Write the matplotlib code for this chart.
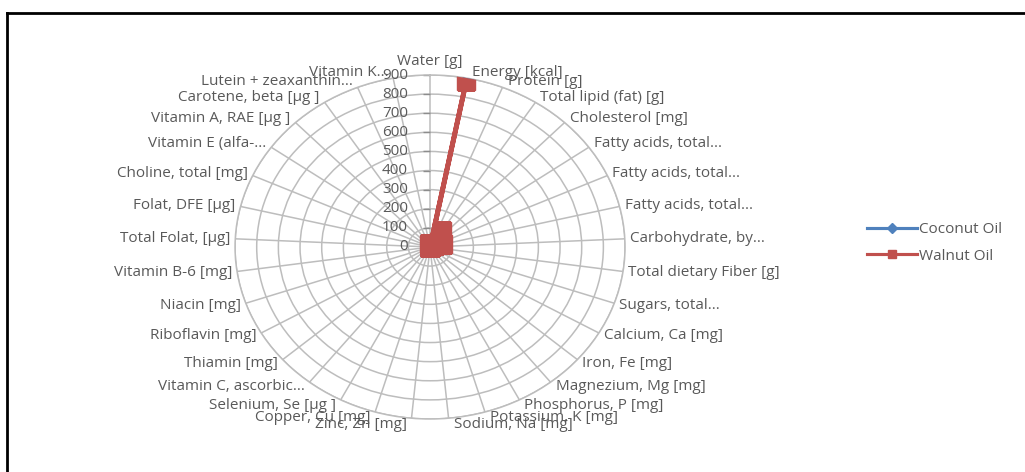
import numpy as np
import matplotlib
matplotlib.use("Agg")
import matplotlib.pyplot as plt
from matplotlib.lines import Line2D

# Nutrient categories (clockwise from the top)
categories = [
    "Water [g]", "Energy [kcal]", "Protein [g]", "Total lipid (fat) [g]",
    "Cholesterol [mg]", "Fatty acids, total...", "Fatty acids, total...",
    "Fatty acids, total...", "Carbohydrate, by...", "Total dietary Fiber [g]",
    "Sugars, total...", "Calcium, Ca [mg]", "Iron, Fe [mg]",
    "Magnezium, Mg [mg]", "Phosphorus, P [mg]", "Potassium, K [mg]",
    "Sodium, Na [mg]", "Zinc, Zn [mg]", "Copper, Cu [mg]", "Selenium, Se [µg ]",
    "Vitamin C, ascorbic...", "Thiamin [mg]", "Riboflavin [mg]", "Niacin [mg]",
    "Vitamin B-6 [mg]", "Total Folat, [µg]", "Folat, DFE [µg]",
    "Choline, total [mg]", "Vitamin E (alfa-...", "Vitamin A, RAE [µg ]",
    "Carotene, beta [µg ]", "Lutein + zeaxanthin...", "Vitamin K...",
]

coconut_oil = [0.03, 892, 0, 99.06, 0, 82.5, 6.3, 1.7, 0, 0, 0, 1, 0.05,
               0, 0, 0, 0, 0.02, 0, 0, 0, 0, 0, 0, 0, 0, 0, 0.3, 0.11, 0,
               0, 0, 0.6]
walnut_oil = [0, 884, 0, 100, 0, 9.1, 22.8, 63.3, 0, 0, 0, 0, 0, 0, 0, 0,
              0, 0, 0, 0, 0, 0, 0, 0, 0, 0, 0, 0.4, 0.4, 0, 0, 0, 15]

r_ticks = list(range(0, 1000, 100))

text_col = "#595959"
grid_col = "#BDBDBD"
blue = "#4F81BD"
red = "#C0504D"
font = "Open Sans"
fs = 11

fig = plt.figure(figsize=(10.25, 4.72), dpi=100)
fig.patch.set_facecolor("white")

# chart border (only left and top are inside the image)
fig.add_artist(Line2D([7 / 1025, 7 / 1025], [0, 1 - 13 / 472], transform=fig.transFigure,
                      color="black", lw=2))
fig.add_artist(Line2D([7 / 1025, 1], [1 - 13 / 472, 1 - 13 / 472], transform=fig.transFigure,
                      color="black", lw=2))

ax = fig.add_axes([0.2293, 0.1123, 0.3805, 0.7288], projection="polar")
ax.set_aspect("auto")
ax.set_theta_zero_location("N")
ax.set_theta_direction(-1)

n = len(categories)
angles = np.arange(n) * 2 * np.pi / n
closed = np.append(angles, angles[0])

ax.set_ylim(0, 900)
ax.set_xticks(angles)
ax.set_xticklabels([])
ax.set_yticks(r_ticks)
ax.set_yticklabels([])
ax.grid(color=grid_col, lw=1.1)
ax.spines["polar"].set_color(grid_col)
ax.spines["polar"].set_linewidth(1.1)

ax.plot(closed, np.append(coconut_oil, coconut_oil[0]), color=blue, lw=2.25,
        marker="D", ms=7, zorder=3)
ax.plot(closed, np.append(walnut_oil, walnut_oil[0]), color=red, lw=3.5,
        marker="s", ms=13, zorder=4)

# radial axis labels next to the top spoke
ax.plot([0] * len(r_ticks), r_ticks, ls="none", marker=0, ms=5, color="#8C8C8C",
        clip_on=False, zorder=2)
for v in r_ticks:
    ax.annotate(str(v), xy=(0, v), xytext=(-22, 0), textcoords="offset pixels",
                ha="right", va="center", fontsize=fs, color=text_col, family=font,
                annotation_clip=False)

# category labels around the outside
for ang, lab in zip(angles, categories):
    s, c = np.sin(ang), np.cos(ang)
    if abs(s) < 1e-6:
        ha, va, dx, dy = "center", "bottom", 0, 6
    else:
        ha = "left" if s > 0 else "right"
        va, dx, dy = "center", 5 * np.sign(s), 6 * c
    ax.annotate(lab, xy=(ang, 900), xytext=(dx, dy), textcoords="offset pixels",
                ha=ha, va=va, fontsize=fs, color=text_col, family=font,
                annotation_clip=False)

handles = [
    Line2D([], [], color=blue, lw=2.25, marker="D", ms=5),
    Line2D([], [], color=red, lw=2.25, marker="s", ms=6),
]
fig.legend(handles, ["Coconut Oil", "Walnut Oil"], loc="center left",
           bbox_to_anchor=(853 / 1025, 1 - 243 / 472), frameon=False,
           handlelength=3.3, handletextpad=0.1, labelspacing=0.75,
           prop={"family": font, "size": fs}, labelcolor=text_col)

fig.savefig("out.png", dpi=100, facecolor="white")
